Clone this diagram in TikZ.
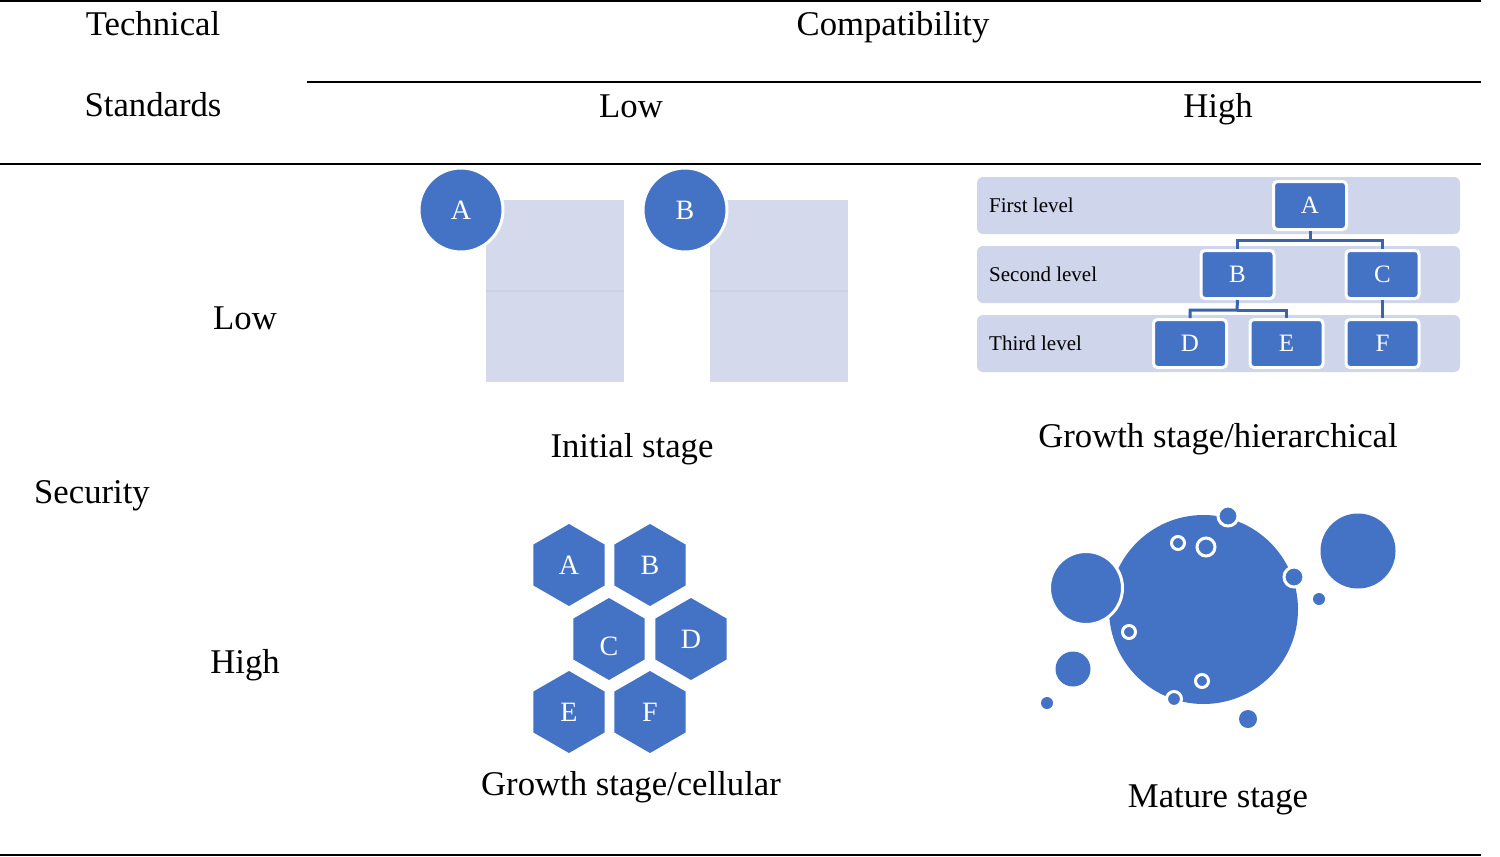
\documentclass[tikz,border=0pt]{standalone}
\usepackage{fontspec}
\setmainfont{Liberation Serif}
\usetikzlibrary{shapes.geometric,calc}
\definecolor{blu}{HTML}{4472C4}
\definecolor{lav}{HTML}{D4D9EB}
\definecolor{lavline}{HTML}{CBD1E7}
\definecolor{band}{HTML}{CFD5EA}
\definecolor{conn}{HTML}{3A62AE}
\begin{document}
\begin{tikzpicture}[x=1pt,y=-1pt,
  lbl/.style={font=\fontsize{34.7}{40}\selectfont, inner sep=0, anchor=base},
  small/.style={font=\fontsize{21}{24}\selectfont, inner sep=0, anchor=base west},
  rule/.style={line width=2},
  lavrect/.style={rectangle, fill=lav, inner sep=0, minimum width=138, minimum height=182},
  bigdisc/.style={circle, fill=blu, draw=white, line width=3, inner sep=0, minimum size=84, text=white, font=\fontsize{28}{30}\selectfont},
  bandbox/.style={rectangle, rounded corners=6, fill=band, inner sep=0, minimum width=483, minimum height=57},
  hbox/.style={rectangle, rounded corners=4, fill=blu, draw=white, line width=3, inner sep=0, minimum width=73, minimum height=48, text=white, font=\fontsize{25}{28}\selectfont},
  conn/.style={draw=conn, line width=3},
  hex/.style={regular polygon, regular polygon sides=6, shape border rotate=30, fill=blu, inner sep=0, minimum size=82, text=white, font=\fontsize{28}{30}\selectfont},
  hexl/.style={inner sep=0, text=white, font=\fontsize{28}{30}\selectfont},
  dot/.style={circle, fill=blu, inner sep=0, minimum size=#1},
  wdot/.style={circle, fill=blu, draw=white, line width=3, inner sep=0, minimum size=#1}
]
\useasboundingbox (0,0) rectangle (1500,857);

% table rules
\draw[rule] (0,1) -- (1481,1);
\draw[rule] (307,82) -- (1481,82);
\draw[rule] (0,164) -- (1481,164);
\draw[rule] (0,855) -- (1481,855);

% header labels
\node[lbl] (tech) at (153,35) {Technical};
\node[lbl] (stand) at (153,116) {Standards};
\node[lbl] (compat) at (893,35) {Compatibility};
\node[lbl] (clow) at (631,117) {Low};
\node[lbl] (chigh) at (1218,117) {High};
\node[lbl] (slow) at (245,329) {Low};
\node[lbl] (sec) at (92,503) {Security};
\node[lbl] (shigh) at (245,673) {High};

% stage labels
\node[lbl] (initial) at (632,457) {Initial stage};
\node[lbl] (hier) at (1218,447) {Growth stage/hierarchical};
\node[lbl] (cell) at (631,795) {Growth stage/cellular};
\node[lbl] (mature) at (1218,807) {Mature stage};

% initial stage
\node[lavrect] (ra) at (555,291) {};
\draw[lavline, line width=1.5] (ra.west) -- (ra.east);
\node[lavrect] (rb) at (779,291) {};
\draw[lavline, line width=1.5] (rb.west) -- (rb.east);
\node[bigdisc] (ca) at (461,210) {A};
\node[bigdisc] (cb) at (685,210) {B};

% hierarchy
\node[bandbox] (b1) at (1218.5,205.5) {};
\node[bandbox] (b2) at (1218.5,274.5) {};
\node[bandbox] (b3) at (1218.5,343.5) {};
\node[small] (l1) at (989,212) {First level};
\node[small] (l2) at (989,281) {Second level};
\node[small] (l3) at (989,350) {Third level};
\coordinate (jA) at (1310,240);
\coordinate (jB) at (1237,310);
\node[hbox] (hA) at (1310,205.5) {A};
\node[hbox] (hB) at (1237.5,274.5) {B};
\node[hbox] (hC) at (1382.5,274.5) {C};
\node[hbox] (hD) at (1190,343.5) {D};
\node[hbox] (hE) at (1286.5,343.5) {E};
\node[hbox] (hF) at (1382.5,343.5) {F};
\draw[conn] (hA.south) -- (jA) -| (hB.north);
\draw[conn] (jA) -| (hC.north);
\draw[conn] (hB.south) -- (jB) -| (hD.north);
\draw[conn] (jB) -| (hE.north);
\draw[conn] (hC.south) -- (hF.north);

% cellular
\node[hex] (xA) at (569,565) {A};
\node[hex] (xB) at (650,565) {B};
\node[hex] (xC) at (609,639) {};
\node[hexl] (xCl) at ($(xC)+(0,7)$) {C};
\node[hex] (xD) at (691,639) {D};
\node[hex] (xE) at (569,712) {E};
\node[hex] (xF) at (650,712) {F};

% mature
\node[dot=189] (m0) at (1203.5,609.5) {};
\node[wdot=73] (m1) at (1086,588) {};
\node[wdot=20] (m2) at (1228,516) {};
\node[wdot=20] (m3) at (1294,577) {};
\node[wdot=15] (m4) at (1174,699) {};
\node[wdot=13] (r1) at (1178,543) {};
\node[wdot=18] (r2) at (1206,547) {};
\node[wdot=13] (r3) at (1129,632) {};
\node[wdot=13] (r4) at (1202,681) {};
\node[dot=75] (m5) at (1358,551) {};
\node[dot=12] (m6) at (1319,599) {};
\node[dot=35] (m7) at (1073,669) {};
\node[dot=12] (m8) at (1047,703) {};
\node[dot=18] (m9) at (1248,719) {};
\end{tikzpicture}
\end{document}
